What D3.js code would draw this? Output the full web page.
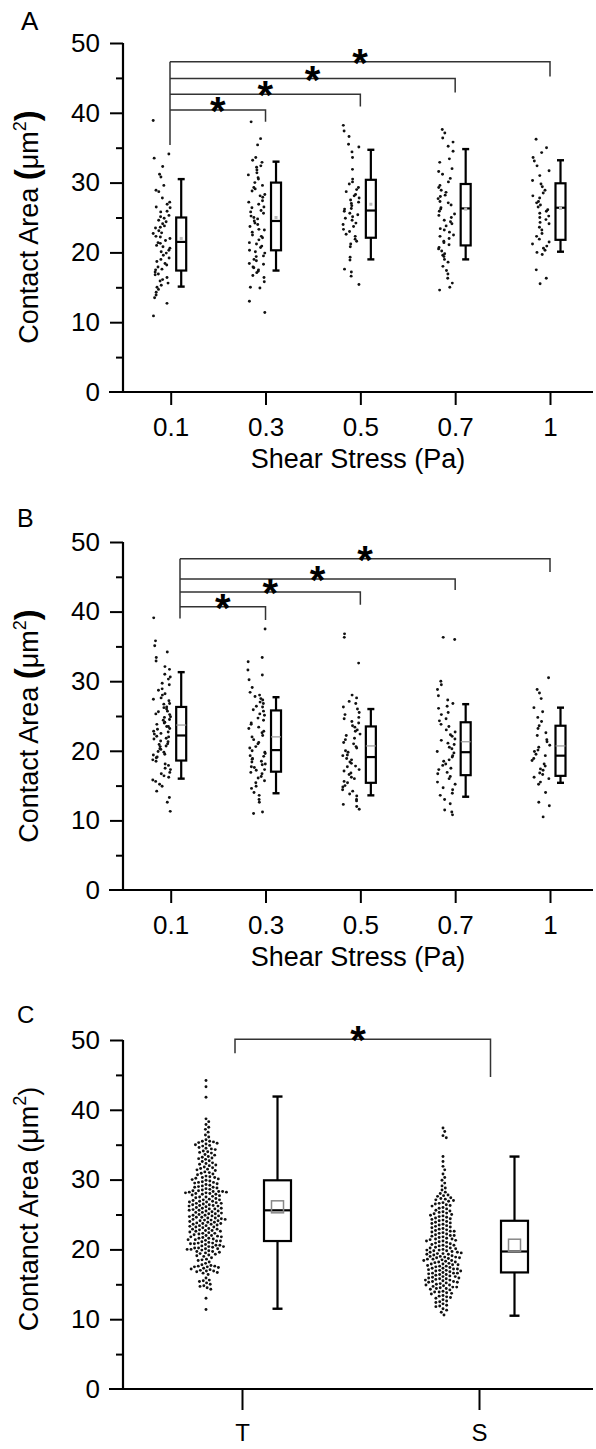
<!DOCTYPE html>
<html><head><meta charset="utf-8">
<script src="https://cdn.jsdelivr.net/npm/d3@7"></script>
<style>
body{margin:0;background:#fff}
svg{display:block}
text{font-family:"Liberation Sans",Arial,sans-serif;fill:#000}
</style>
</head><body>
<svg id="c" width="596" height="1449"></svg>
<script>
// ---------- categories & ticks ----------
const shearCats = ["0.1","0.3","0.5","0.7","1"];
const cellCats = ["T","S"];
const yMajor = [0,10,20,30,40,50];
const yMinor = [5,15,25,35,45];

// ---------- Panel A scatter values (µm²) ----------
const A_01 = [38.9,34.1,33.5,32.3,31.2,30.8,29.6,28.9,28.7,27.8,27.2,26.9,26.5,26.4,25.9,25.8,25.3,25.1,24.9,24.6,24.4,24.1,23.8,23.6,23.5,23.1,22.8,22.7,22.3,22.2,22.0,21.7,21.4,21.3,21.0,20.8,20.6,20.3,20.1,19.9,19.6,19.2,19.0,18.7,18.4,18.2,17.9,17.6,17.5,17.2,16.9,16.8,16.4,16.1,15.9,15.6,15.3,15.0,14.7,14.3,13.9,13.5,12.7,10.9];
const A_03 = [38.7,36.3,35.4,33.6,33.2,32.9,32.4,32.2,31.8,31.4,31.1,30.7,30.5,30.0,29.6,29.3,29.1,28.8,28.3,28.1,27.9,27.4,27.2,26.9,26.5,26.4,26.0,25.8,25.6,25.2,25.0,24.8,24.5,24.2,24.0,23.7,23.3,23.2,22.9,22.5,22.3,22.1,21.8,21.4,21.2,20.9,20.7,20.3,20.1,19.9,19.5,19.4,19.0,18.8,18.4,18.3,17.9,17.8,17.5,17.3,17.1,16.7,16.4,15.8,15.0,14.9,13.0,11.4];
const A_05 = [38.2,37.4,36.6,35.5,35.1,34.4,33.6,31.9,30.5,30.1,29.8,29.3,29.0,28.7,28.3,28.1,27.8,27.5,27.2,27.0,26.7,26.3,26.2,25.9,25.6,25.4,25.1,24.9,24.6,24.2,24.0,23.7,23.3,23.0,22.6,22.3,21.9,21.6,21.2,20.8,19.3,18.9,17.6,17.2,16.6,15.4];
const A_07 = [37.6,37.1,36.4,35.8,35.2,34.5,33.4,32.9,32.0,31.6,31.2,30.6,30.1,29.6,29.3,28.9,28.6,28.2,28.0,27.7,27.3,27.1,26.8,26.4,26.2,25.9,25.5,25.3,25.0,24.6,24.4,24.1,23.8,23.4,23.2,22.9,22.5,22.3,22.0,21.6,21.4,21.1,20.7,20.5,20.2,19.8,19.6,19.4,19.0,18.6,18.0,17.4,16.9,16.3,15.6,15.0,14.6];
const A_1  = [36.2,35.0,34.3,33.6,33.1,32.4,31.7,31.0,30.3,29.8,29.4,28.9,28.5,28.1,27.8,27.3,27.1,26.8,26.5,26.1,25.9,25.6,25.2,25.0,24.7,24.3,24.1,23.6,23.2,22.7,22.3,21.9,21.5,21.2,20.9,20.6,20.3,20.0,19.7,17.5,16.3,15.5];

// ---------- Panel A box statistics ----------
const A_whiskLow  = [15.1,17.4,19.0,19.0,20.1];
const A_q1        = [17.4,20.3,22.1,21.0,21.8];
const A_median    = [21.5,24.5,26.0,26.3,26.4];
const A_q3        = [25.0,30.0,30.4,29.8,29.9];
const A_whiskHigh = [30.5,33.0,34.7,34.8,33.2];
const A_mean      = [22.0,25.0,26.9,26.2,26.3];

// ---------- Panel A significance brackets ----------
const A_sigTo    = ["0.3","0.5","0.7","1"];
const A_sigLevel = [40.4,42.65,44.9,47.3];
const A_sigDrop  = [38.7,40.9,42.9,45.2];
const A_sigFoot  = 35.4;

// ---------- Panel B scatter values ----------
const B_01 = [39.1,35.8,35.1,34.2,33.4,32.9,32.1,31.7,31.0,30.6,30.3,29.7,29.5,28.9,28.7,28.2,28.0,27.6,27.4,27.2,26.8,26.7,26.3,26.2,26.0,25.7,25.6,25.3,25.2,24.9,24.8,24.5,24.4,24.1,24.0,23.8,23.5,23.5,23.2,23.1,22.8,22.7,22.5,22.4,22.1,22.0,21.8,21.7,21.4,21.3,21.0,20.9,20.7,20.6,20.3,20.2,19.9,19.8,19.5,19.4,19.1,19.0,18.7,18.5,18.1,17.9,17.5,17.3,16.9,16.7,16.4,16.2,15.8,15.6,15.2,14.9,14.2,13.3,12.6,11.3];
const B_03 = [37.5,33.4,32.8,31.6,30.9,30.2,29.1,28.4,28.0,27.8,27.5,27.3,27.0,26.8,26.4,26.3,25.9,25.7,25.3,25.1,24.7,24.4,24.0,23.8,23.4,23.2,22.8,22.6,22.2,22.0,21.6,21.2,21.0,20.6,20.4,20.0,19.8,19.6,19.3,19.2,18.9,18.8,18.5,18.4,18.1,18.0,17.7,17.6,17.3,17.2,16.9,16.7,16.3,16.1,15.7,15.4,14.9,14.6,14.0,13.6,13.0,12.6,11.2,11.0];
const B_05 = [36.8,36.3,32.6,28.0,27.6,27.1,26.8,26.3,26.0,25.5,25.2,24.8,24.6,24.2,24.0,23.6,23.4,23.0,22.8,22.4,22.2,21.8,21.6,21.2,21.0,20.6,20.4,20.0,19.8,19.4,19.3,18.9,18.7,18.4,18.2,17.8,17.7,17.3,17.1,16.8,16.6,16.2,16.0,15.6,15.4,15.0,14.8,14.4,14.2,13.8,13.5,13.0,12.8,12.3,12.0,11.6];
const B_07 = [36.3,36.0,30.0,29.5,28.8,27.9,27.3,26.8,26.4,26.1,25.5,25.2,24.6,24.3,23.8,23.5,23.0,22.7,22.3,22.1,21.7,21.5,21.1,20.9,20.5,20.3,19.9,19.7,19.3,19.1,18.7,18.5,18.1,17.9,17.5,17.3,16.9,16.7,16.3,16.0,15.5,15.2,14.7,14.4,13.9,13.6,13.0,12.4,11.5,11.2,10.8];
const B_1  = [30.5,28.8,28.3,27.5,26.2,25.6,24.8,24.2,23.6,23.2,22.6,22.2,21.6,21.3,20.8,20.5,20.1,19.9,19.5,19.3,18.9,18.6,18.1,17.8,17.4,17.2,16.8,16.6,16.2,16.0,15.5,15.2,14.0,12.6,12.1,10.5];

// ---------- Panel B box statistics ----------
const B_whiskLow  = [16.0,13.9,13.6,13.4,15.4];
const B_q1        = [18.6,17.0,15.4,16.5,16.4];
const B_median    = [22.2,20.1,19.1,19.8,19.3];
const B_q3        = [26.3,25.8,23.5,24.1,23.6];
const B_whiskHigh = [31.3,27.7,26.0,26.7,26.2];
const B_mean      = [23.7,22.0,20.7,21.3,20.7];

// ---------- Panel B significance brackets ----------
const B_sigTo    = ["0.3","0.5","0.7","1"];
const B_sigLevel = [40.7,42.8,44.7,47.6];
const B_sigDrop  = [38.8,41.0,43.1,45.7];
const B_sigFoot  = 39.0;

// ---------- Panel C scatter values ----------
const C_T = [44.2,43.3,41.8,38.7,38.3,37.9,37.5,37.2,36.8,36.4,36.1,35.7,35.5,35.5,35.2,35.1,35.0,34.8,34.6,34.5,34.3,34.1,34.0,33.8,33.6,33.5,33.3,33.2,33.0,32.9,32.7,32.6,32.4,32.3,32.1,32.0,31.8,31.7,31.5,31.4,31.3,31.1,31.0,30.8,30.7,30.5,30.4,30.2,30.1,30.0,29.9,29.8,29.6,29.5,29.3,29.2,29.0,28.9,28.8,28.7,28.5,28.4,28.3,28.3,28.2,28.1,28.0,27.9,27.7,27.6,27.5,27.4,27.3,27.1,27.0,26.9,26.8,26.7,26.6,26.5,26.4,26.3,26.2,26.1,26.0,25.9,25.8,25.7,25.6,25.6,25.5,25.4,25.3,25.2,25.1,25.0,24.9,24.8,24.7,24.6,24.5,24.5,24.4,24.3,24.2,24.1,24.0,23.9,23.8,23.7,23.6,23.5,23.4,23.3,23.2,23.1,23.0,22.9,22.8,22.7,22.6,22.5,22.4,22.3,22.2,22.1,22.0,21.9,21.8,21.7,21.6,21.5,21.4,21.3,21.2,21.1,21.0,20.9,20.8,20.7,20.6,20.5,20.4,20.3,20.2,20.1,20.0,19.9,19.8,19.7,19.6,19.5,19.4,19.3,19.1,19.0,18.8,18.6,18.4,18.2,18.0,17.8,17.7,17.6,17.5,17.4,17.3,17.2,17.0,16.9,16.7,16.6,16.4,15.9,15.6,15.4,15.2,15.0,14.8,14.5,14.3,13.0,11.4,
  28.4,28.2,27.9,27.5,26.8,26.4,25.9,25.5,24.8,24.3,23.9,23.4,22.9,22.3,21.8,21.2,20.6,20.1,19.7,29.1,29.6,30.3,33.9,35.3,26.2,25.1,24.6,23.6,22.6,21.6,20.8,28.9,27.8,27.1,26.6,
  35.4,34.9,34.4,33.1,32.2,31.6,30.9,30.3,29.7,29.4,28.6,28.1,27.2,26.9,26.3,25.8,25.3,24.9,24.2,23.7,23.2,22.7,22.0,21.4,20.9,20.4,20.0,19.2,18.5,17.6,17.1,16.8,15.5,14.7,28.3,28.0,24.1,20.2,17.5,16.9];
const C_S = [37.4,36.9,36.3,36.0,33.3,32.6,31.9,31.4,30.8,30.3,29.9,29.5,29.1,28.8,28.5,28.2,28.0,27.8,27.6,27.4,27.2,27.0,26.9,26.7,26.5,26.3,26.2,26.0,25.8,25.6,25.5,25.3,25.1,25.0,24.8,24.7,24.5,24.4,24.2,24.1,24.0,23.8,23.7,23.5,23.4,23.3,23.1,23.0,22.9,22.7,22.6,22.5,22.3,22.2,22.1,22.0,21.9,21.7,21.6,21.5,21.4,21.2,21.1,21.0,20.9,20.8,20.6,20.5,20.4,20.3,20.2,20.1,20.0,19.9,19.8,19.7,19.6,19.5,19.4,19.3,19.2,19.1,19.0,18.9,18.8,18.7,18.6,18.5,18.4,18.3,18.2,18.1,18.0,17.9,17.8,17.7,17.6,17.5,17.4,17.3,17.2,17.1,17.0,16.9,16.8,16.7,16.6,16.5,16.4,16.3,16.2,16.1,16.0,15.9,15.8,15.7,15.6,15.5,15.4,15.3,15.2,15.1,15.0,14.9,14.8,14.7,14.6,14.5,14.4,14.3,14.2,14.0,13.9,13.7,13.6,13.4,13.3,13.1,13.0,12.8,12.6,12.4,12.2,12.0,11.8,11.5,11.3,11.0,10.6,
  20.2,19.9,19.4,19.0,18.6,18.2,17.8,17.3,16.9,16.4,15.9,15.4,14.9,14.4,13.8,21.3,21.8,22.4,23.2,24.6,25.4,26.6,27.3,19.6,18.8,17.6,16.6,15.6,20.7,21.5,
  27.7,27.1,26.4,25.9,25.2,24.3,23.6,22.8,22.0,21.2,20.6,19.8,19.3,18.4,17.9,17.2,16.6,16.1,15.3,14.6,13.9,13.2,12.5,11.9,24.9,23.9,22.6,18.9,17.0,15.8];

// ---------- Panel C box statistics ----------
const C_whiskLow  = [11.5,10.5];
const C_q1        = [21.2,16.7];
const C_median    = [25.6,19.7];
const C_q3        = [29.9,24.1];
const C_whiskHigh = [41.9,33.3];
const C_mean      = [26.1,20.6];

// ---------- Panel C significance bracket ----------
const C_sigLevel = 50.1;
const C_sigDropL = 48.1;
const C_sigDropR = 44.7;

// =================== drawing ===================
const svg = d3.select("#c");
const AX_X = 123;
const TICK_FONT = "26px";

function jit(i, k){ const s = Math.sin(i*12.9898 + k*78.233)*43758.5453; return s - Math.floor(s) - 0.5; }

function drawAxes(y, x, xTickLen, xPad, xFont){
  const g = svg.append("g");
  const gy = g.append("g").attr("transform",`translate(${AX_X},0)`)
    .call(d3.axisLeft(y).tickValues(yMajor.filter(d=>d>0)).tickSize(13).tickPadding(10).tickFormat(d3.format("d")));
  gy.select(".domain").remove();
  gy.selectAll(".tick text").style("font-size",TICK_FONT);
  const gm = g.append("g").attr("transform",`translate(${AX_X},0)`)
    .call(d3.axisLeft(y).tickValues(yMinor).tickSize(7).tickFormat(""));
  gm.select(".domain").remove();
  g.append("text").attr("x",AX_X-23).attr("y",y(0)).attr("dy","0.35em").attr("text-anchor","end")
    .style("font-size",TICK_FONT).text("0");
  const gx = g.append("g").attr("transform",`translate(0,${y(0)})`)
    .call(d3.axisBottom(x).tickSize(xTickLen).tickPadding(xPad));
  gx.select(".domain").remove();
  gx.selectAll(".tick text").style("font-size",xFont);
  g.selectAll(".tick line").attr("stroke","#000").attr("stroke-width",2);
  g.selectAll(".tick text").attr("fill","#000").style("font-family",'"Liberation Sans",Arial,sans-serif');
  g.append("line").attr("x1",AX_X).attr("x2",AX_X).attr("y1",y(0)).attr("y2",y(50))
    .attr("stroke","#000").attr("stroke-width",2.2);
  g.append("line").attr("x1",AX_X-14).attr("x2",593).attr("y1",y(0)).attr("y2",y(0))
    .attr("stroke","#000").attr("stroke-width",2.2);
}

function yTitle(cy, label, boldParens){
  const t = svg.append("text").attr("transform",`translate(38,${cy}) rotate(-90)`)
    .attr("text-anchor","middle").style("font-size","27px");
  t.append("tspan").text(label+" ");
  const p1 = t.append("tspan").text("(");
  t.append("tspan").text("μm");
  t.append("tspan").attr("dy",-12).style("font-size","18px").text("2");
  const p2 = t.append("tspan").attr("dy",12).text(")");
  if (boldParens){
    p1.style("font-weight","bold").style("font-size","33px");
    p2.style("font-weight","bold").style("font-size","33px");
  }
}

function drawBoxes(x, y, cats, lo, q1, med, q3, hi, mean, off, w, capW, meanStyle){
  const g = svg.append("g").attr("stroke","#000").attr("fill","none");
  cats.forEach((c,i)=>{
    const cx = x(c)+off;
    g.append("line").attr("x1",cx).attr("x2",cx).attr("y1",y(q3[i])).attr("y2",y(hi[i])).attr("stroke-width",2.2);
    g.append("line").attr("x1",cx).attr("x2",cx).attr("y1",y(q1[i])).attr("y2",y(lo[i])).attr("stroke-width",2.2);
    g.append("line").attr("x1",cx-capW/2).attr("x2",cx+capW/2).attr("y1",y(hi[i])).attr("y2",y(hi[i])).attr("stroke-width",2.4);
    g.append("line").attr("x1",cx-capW/2).attr("x2",cx+capW/2).attr("y1",y(lo[i])).attr("y2",y(lo[i])).attr("stroke-width",2.4);
    g.append("rect").attr("x",cx-w/2).attr("width",w).attr("y",y(q3[i])).attr("height",y(q1[i])-y(q3[i]))
      .attr("fill","#fff").attr("stroke-width",2.2);
    if (meanStyle==="line"){
      g.append("line").attr("x1",cx-w/2).attr("x2",cx+w/2).attr("y1",y(mean[i])).attr("y2",y(mean[i]))
        .attr("stroke","#999").attr("stroke-width",1.2);
    }
    g.append("line").attr("x1",cx-w/2).attr("x2",cx+w/2).attr("y1",y(med[i])).attr("y2",y(med[i])).attr("stroke-width",2.2);
    if (meanStyle==="dot"){
      g.append("rect").attr("x",cx-1.5).attr("y",y(mean[i])-1.5).attr("width",3).attr("height",3)
        .attr("fill","#bbb").attr("stroke","none");
    }
    if (meanStyle==="square"){
      g.append("rect").attr("x",cx-6).attr("y",y(mean[i])-6).attr("width",12).attr("height",12)
        .attr("fill","none").attr("stroke","#888").attr("stroke-width",1.5);
    }
  });
}

function drawJitter(x, y, cat, vals, off, spread, k){
  svg.append("g").selectAll("circle").data(vals).join("circle")
    .attr("cx",(d,i)=>x(cat)+off+jit(i,k)*spread).attr("cy",d=>y(d)).attr("r",1.45).attr("fill","#111");
}

function dodge(vals, y, r){
  const pts = vals.map(v=>({v, py:y(v), x:0})).sort((a,b)=>a.py-b.py);
  const placed=[];
  for (const p of pts){
    const cands=[0];
    for (const q of placed){
      const dy = Math.abs(q.py-p.py);
      if (dy < 2*r){ const dx=Math.sqrt(4*r*r-dy*dy); cands.push(q.x+dx, q.x-dx); }
    }
    cands.sort((a,b)=>Math.abs(a)-Math.abs(b));
    for (const c of cands){
      if (placed.every(q=> Math.abs(q.py-p.py)>=2*r || (q.x-c)**2+(q.py-p.py)**2 >= 4*r*r-0.01)){ p.x=c; break; }
    }
    placed.push(p);
  }
  return pts;
}

function drawBrackets(x, y, fromX, toCats, levels, drops, foot){
  const g = svg.append("g").attr("stroke","#333").attr("stroke-width",1.5).attr("fill","none");
  g.append("line").attr("x1",fromX).attr("x2",fromX).attr("y1",y(d3.max(levels))).attr("y2",y(foot));
  toCats.forEach((c,i)=>{
    const x2 = x(c);
    g.append("path").attr("d",`M${fromX},${y(levels[i])}H${x2}V${y(drops[i])}`);
    svg.append("text").attr("x",(fromX+x2)/2).attr("y",y(levels[i])+15).attr("text-anchor","middle")
      .style("font-size","40px").style("font-weight","bold").text("*");
  });
}

// ---------------- Panel A ----------------
const yA = d3.scaleLinear().domain([0,50]).range([392,43]);
const xA = d3.scalePoint().domain(shearCats).range([170.7,550]);
drawAxes(yA, xA, 13, 13, TICK_FONT);
[A_01,A_03,A_05,A_07,A_1].forEach((v,i)=>drawJitter(xA,yA,shearCats[i],v,-9,17,i));
drawBoxes(xA,yA,shearCats,A_whiskLow,A_q1,A_median,A_q3,A_whiskHigh,A_mean,10.5,10,7,"dot");
drawBrackets(xA,yA,170,A_sigTo,A_sigLevel,A_sigDrop,A_sigFoot);
yTitle(227,"Contact Area",true);
svg.append("text").attr("x",358).attr("y",468).attr("text-anchor","middle").style("font-size","27px").text("Shear Stress (Pa)");
svg.append("text").attr("x",21).attr("y",30).style("font-size","26px").text("A");

// ---------------- Panel B ----------------
const yB = d3.scaleLinear().domain([0,50]).range([890,542]);
const xB = d3.scalePoint().domain(shearCats).range([170.7,550]);
drawAxes(yB, xB, 13, 13, TICK_FONT);
[B_01,B_03,B_05,B_07,B_1].forEach((v,i)=>drawJitter(xB,yB,shearCats[i],v,-9,18,i+5));
drawBoxes(xB,yB,shearCats,B_whiskLow,B_q1,B_median,B_q3,B_whiskHigh,B_mean,10.5,10,7,"line");
drawBrackets(xB,yB,180,B_sigTo,B_sigLevel,B_sigDrop,B_sigFoot);
yTitle(726,"Contact Area",true);
svg.append("text").attr("x",358).attr("y",966).attr("text-anchor","middle").style("font-size","27px").text("Shear Stress (Pa)");
svg.append("text").attr("x",17).attr("y",527).style("font-size","25px").text("B");

// ---------------- Panel C ----------------
const yC = d3.scaleLinear().domain([0,50]).range([1389,1040]);
const xC = d3.scalePoint().domain(cellCats).range([242,479]);
drawAxes(yC, xC, 21, 14, "24px");
[C_T,C_S].forEach((v,i)=>{
  const pts = dodge(v,yC,1.95);
  svg.append("g").selectAll("circle").data(pts).join("circle")
    .attr("cx",d=>xC(cellCats[i])-36+d.x).attr("cy",d=>d.py).attr("r",1.45).attr("fill","#111");
});
drawBoxes(xC,yC,cellCats,C_whiskLow,C_q1,C_median,C_q3,C_whiskHigh,C_mean,35.5,27,10,"square");
{
  const g = svg.append("g").attr("stroke","#333").attr("stroke-width",1.5).attr("fill","none");
  g.append("path").attr("d",`M235,${yC(C_sigDropL)}V${yC(C_sigLevel)}H490.5V${yC(C_sigDropR)}`);
  svg.append("text").attr("x",358).attr("y",yC(C_sigLevel)+15).attr("text-anchor","middle")
    .style("font-size","40px").style("font-weight","bold").text("*");
}
yTitle(1209,"Contanct Area",false);
svg.append("text").attr("x",17).attr("y",1023).style("font-size","24px").text("C");
</script>
</body></html>
